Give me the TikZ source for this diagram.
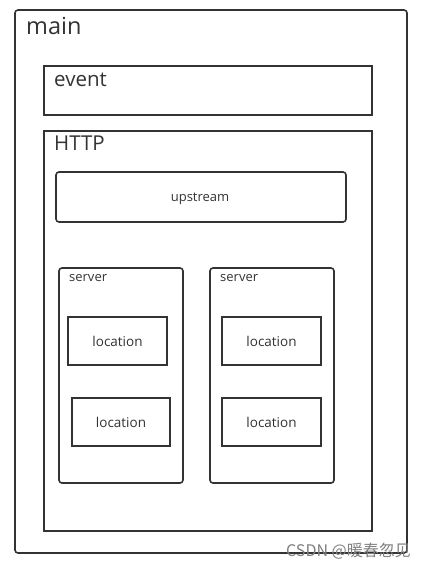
\documentclass[tikz,border=0pt]{standalone}
\usepackage{fontspec}
\setmainfont{Open Sans}
\newfontfamily\cjk{Noto Sans CJK SC}
\definecolor{ln}{HTML}{333333}
\begin{document}
\begin{tikzpicture}[x=1pt,y=-1pt,
  box/.style={draw=ln,line width=1.6pt},
  rbox/.style={box,rounded corners=3pt},
  lbl/.style={anchor=base west,inner sep=0pt,text=ln},
  ctr/.style={anchor=base,inner sep=0pt,text=ln,font=\fontsize{13.5}{16}\selectfont}]
\useasboundingbox[fill=white] (0,0) rectangle (424,570);
% main
\draw[rbox] (15,10) rectangle (407,553);
\node[lbl,font=\fontsize{23.5}{28}\selectfont] (mainl) at (26,34) {main};
% event
\draw[box] (44,66) rectangle (372,115);
\node[lbl,font=\fontsize{20.5}{24}\selectfont] (eventl) at (54,86) {event};
% HTTP
\draw[box] (44,131) rectangle (372,531);
\node[lbl,font=\fontsize{20.5}{24}\selectfont] (httpl) at (54,150) {HTTP};
% upstream
\draw[rbox] (56,172) rectangle (346,222);
\node[ctr,font=\fontsize{13}{16}\selectfont] (up) at (200,201) {upstream};
% server 1
\draw[rbox] (59,268) rectangle (183,483);
\node[lbl,font=\fontsize{13}{15}\selectfont] (s1) at (69,281) {server};
\draw[box] (68,317) rectangle (167,365);
\node[ctr] (l1) at (117.5,346) {location};
\draw[box] (72,398) rectangle (170,446);
\node[ctr] (l2) at (121,427) {location};
% server 2
\draw[rbox] (210,268) rectangle (334,483);
\node[lbl,font=\fontsize{13}{15}\selectfont] (s2) at (220,281) {server};
\draw[box] (222,317) rectangle (321,365);
\node[ctr] (l3) at (271.5,346) {location};
\draw[box] (222,398) rectangle (321,446);
\node[ctr] (l4) at (271.5,427) {location};
% watermark
\node[inner sep=0pt,anchor=east,text=black!50,font=\cjk\fontsize{16}{18}\selectfont] (wm) at (411,551) {CSDN @暖春忽见};
\end{tikzpicture}
\end{document}
